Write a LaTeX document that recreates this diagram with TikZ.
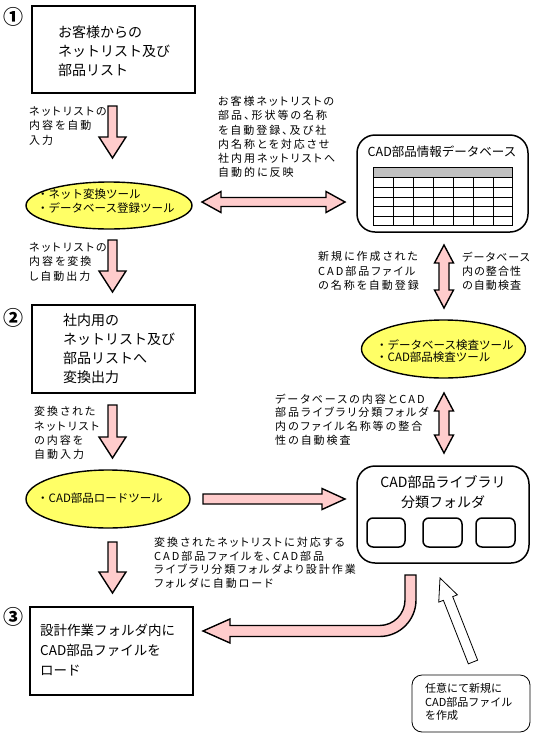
\documentclass[tikz,border=0pt]{standalone}
\usepackage{fontspec}
\setmainfont{Noto Sans CJK JP}
\newfontfamily\lf[RawFeature=+palt,LetterSpace=18]{Noto Sans CJK JP}
\newfontfamily\lfn[RawFeature=+palt,LetterSpace=10]{Noto Sans CJK JP}
\usetikzlibrary{calc,shapes.geometric}
\definecolor{pinkA}{RGB}{255,204,204}
\definecolor{yelA}{RGB}{255,255,102}
\definecolor{grayA}{RGB}{192,192,192}
\tikzset{
  boxA/.style={draw, line width=1.8pt, fill=white, inner sep=0},
  rboxA/.style={draw, line width=1.5pt, rounded corners=18pt, inner sep=0},
  ellA/.style={ellipse, draw, line width=1.4pt, fill=yelA, inner sep=0},
  blockarrow/.style={draw, line width=1.4pt, fill=pinkA, line join=miter},
  hollowarrow/.style={draw, line width=0.8pt, fill=white, line join=miter},
  txt/.style={align=left, anchor=west, inner sep=0},
  numA/.style={inner sep=0, font=\fontsize{20}{20}\selectfont\bfseries},
  lbl/.style={txt, font=\lf\fontsize{11}{14.2}\selectfont},
  gridA/.style={line width=0.7pt}
}
\newcommand\blkarrow[5]{%
  \path (#1) coordinate (BAs) (#2) coordinate (BAe);
  \coordinate (BAb) at ($(BAe)!#5!(BAs)$);
  \draw[blockarrow] ($(BAs)!#3!90:(BAe)$) -- ($(BAb)!#3!-90:(BAs)$) -- ($(BAb)!#4!-90:(BAs)$) -- (BAe)
     -- ($(BAb)!#4!90:(BAs)$) -- ($(BAb)!#3!90:(BAs)$) -- ($(BAs)!#3!-90:(BAe)$) -- cycle;
}
\newcommand\dblarrow[5]{%
  \path (#1) coordinate (DAs) (#2) coordinate (DAe);
  \coordinate (DAb) at ($(DAe)!#5!(DAs)$);
  \coordinate (DAa) at ($(DAs)!#5!(DAe)$);
  \draw[blockarrow] (DAs) -- ($(DAa)!#4!90:(DAe)$) -- ($(DAa)!#3!90:(DAe)$) -- ($(DAb)!#3!-90:(DAs)$)
     -- ($(DAb)!#4!-90:(DAs)$) -- (DAe) -- ($(DAb)!#4!90:(DAs)$) -- ($(DAb)!#3!90:(DAs)$)
     -- ($(DAa)!#3!-90:(DAe)$) -- ($(DAa)!#4!-90:(DAe)$) -- cycle;
}
\begin{document}
\begin{tikzpicture}[x=1pt,y=-1pt]
\useasboundingbox (0,0) rectangle (534,750);
\fill[white] (0,0) rectangle (534,750);

% step numbers
\node[numA] (n1) at (13,17) {①};
\node[numA] (n2) at (13,318) {②};
\node[numA] (n3) at (13,617) {③};

% box 1
\node[boxA, minimum width=163pt, minimum height=87pt] (b1) at (113.5,49.5) {};
\node[txt, font=\fontsize{14}{19}\selectfont] (t1) at (58,51) {お客様からの\\ネットリスト及び\\部品リスト};

% arrow b1 -> e1
\coordinate (a1s) at (112.5,106);
\coordinate (a1e) at (112.5,158);
\blkarrow{a1s}{a1e}{4.5pt}{13.5pt}{21pt}
\node[lbl] (l1) at (29,126) {ネットリストの\\内容を自動\\入力};

% ellipse 1
\node[ellA, minimum width=166pt, minimum height=47pt] (e1) at (109,205.5) {};
\node[txt, font=\fontsize{11.5}{13.5}\selectfont] (te1) at (37,201) {・ネット変換ツール\\・データベース登録ツール};

% double arrow e1 <-> db
\coordinate (h1s) at (202,202);
\coordinate (h1e) at (345,202);
\dblarrow{h1s}{h1e}{4.5pt}{10.5pt}{19pt}
\node[lbl] (l2) at (218,137) {お客様ネットリストの\\部品、形状等の名称\\を自動登録、及び社\\内名称とを対応させ\\社内用ネットリストへ\\自動的に反映};

% database box
\node[rboxA, minimum width=171pt, minimum height=97pt] (db) at (442.5,183.5) {};
\node[inner sep=0, font=\fontsize{12.5}{14}\selectfont] (dbt) at (442,152) {CAD部品情報データベース};
\fill[grayA] (373,167) rectangle (512,177);
\draw[gridA] (373,167) rectangle (512,225);
\foreach \yy in {177,187,197,206,216} \draw[gridA] (373,\yy) -- (512,\yy);
\foreach \xx in {393,413,433,453,473,493} \draw[gridA] (\xx,177) -- (\xx,225);

% arrow db <-> e3
\coordinate (v1s) at (444,245);
\coordinate (v1e) at (444,308);
\dblarrow{v1s}{v1e}{5pt}{9.5pt}{18pt}
\node[lbl] (l3) at (318,271) {新規に作成された\\CAD部品ファイル\\の名称を自動登録};
\node[txt, font=\lfn\fontsize{11}{14.2}\selectfont] (l4) at (462,271) {データベース\\内の整合性\\の自動検査};

% ellipse 3 (check tools)
\node[ellA, minimum width=164pt, minimum height=58pt] (e3) at (443.5,349) {};
\node[txt, font=\fontsize{11.5}{12.5}\selectfont] (te3) at (376,351) {・データベース検査ツール\\・CAD部品検査ツール};

% arrow e3 <-> lib
\coordinate (v2s) at (444,393);
\coordinate (v2e) at (444,453);
\dblarrow{v2s}{v2e}{5pt}{9.5pt}{18pt}
\node[lbl, font=\lf\fontsize{11}{13.6}\selectfont] (l5) at (275,419.5) {データベースの内容とCAD\\部品ライブラリ分類フォルダ\\内のファイル名称等の整合\\性の自動検査};

% box 2
\node[boxA, minimum width=163pt, minimum height=88pt] (b2) at (113.5,349) {};
\node[txt, font=\fontsize{14}{19}\selectfont] (t2) at (63,348.5) {社内用の\\ネットリスト及び\\部品リストへ\\変換出力};

% arrow e1 -> b2
\coordinate (a2s) at (112.5,240);
\coordinate (a2e) at (112.5,292);
\blkarrow{a2s}{a2e}{4.5pt}{13.5pt}{21pt}
\node[lbl] (l6) at (29,262) {ネットリストの\\内容を変換\\し自動出力};

% arrow b2 -> e2
\coordinate (a3s) at (112.5,405);
\coordinate (a3e) at (112.5,458);
\blkarrow{a3s}{a3e}{4.5pt}{13.5pt}{21pt}
\node[lbl] (l7) at (34,433) {変換された\\ネットリスト\\の内容を\\自動入力};

% ellipse 2
\node[ellA, minimum width=164pt, minimum height=58pt] (e2) at (108,499) {};
\node[txt, font=\fontsize{11.5}{13}\selectfont] (te2) at (37,498) {・CAD部品ロードツール};

% arrow e2 -> lib
\coordinate (h2s) at (203,499);
\coordinate (h2e) at (345,499);
\blkarrow{h2s}{h2e}{5pt}{10.5pt}{23pt}

% library box
\node[rboxA, minimum width=172pt, minimum height=97pt] (lib) at (443,514.5) {};
\node[inner sep=0, align=center, font=\fontsize{14}{20}\selectfont] (libt) at (443,492) {CAD部品ライブラリ\\分類フォルダ};
\node[draw, line width=1.5pt, rounded corners=6pt, minimum width=38pt, minimum height=29pt] (f1) at (386,532.5) {};
\node[draw, line width=1.5pt, rounded corners=6pt, minimum width=39pt, minimum height=29pt] (f2) at (442.5,532.5) {};
\node[draw, line width=1.5pt, rounded corners=6pt, minimum width=39pt, minimum height=29pt] (f3) at (495.5,532.5) {};

% arrow e2 -> b3
\coordinate (a4s) at (112.5,542);
\coordinate (a4e) at (112.5,593);
\blkarrow{a4s}{a4e}{4.5pt}{13.5pt}{21pt}
\node[lbl, font=\lf\fontsize{11}{13.5}\selectfont] (l8) at (154,563) {変換されたネットリストに対応する\\CAD部品ファイルを、CAD部品\\ライブラリ分類フォルダより設計作業\\フォルダに自動ロード};

% box 3
\node[boxA, minimum width=163pt, minimum height=88pt] (b3) at (111.5,651) {};
\node[txt, font=\fontsize{13.5}{20}\selectfont] (t3) at (40,650) {設計作業フォルダ内に\\CAD部品ファイルを\\ロード};

% curved arrow lib -> b3
\draw[blockarrow] (405,575) -- (416,575) -- (416,600) arc[start angle=0, end angle=90, radius=36.5]
  -- (230,636.5) -- (230,643) -- (203,631) -- (230,619) -- (230,625.5) -- (379.5,625.5)
  arc[start angle=90, end angle=0, radius=25.5] -- cycle;

% hollow arrow note -> lib
\draw[hollowarrow] (477.65,660.17) -- (452.70,596.65) -- (457.36,594.82) -- (440,578)
  -- (438.74,602.14) -- (443.40,600.31) -- (468.35,663.83) -- cycle;

% note box
\node[draw, line width=0.8pt, rounded corners=10pt, minimum width=118pt, minimum height=57pt] (note) at (471,703.5) {};
\node[txt, font=\fontsize{11}{13.5}\selectfont] (tn) at (425,702) {任意にて新規に\\CAD部品ファイル\\を作成};
\end{tikzpicture}
\end{document}
